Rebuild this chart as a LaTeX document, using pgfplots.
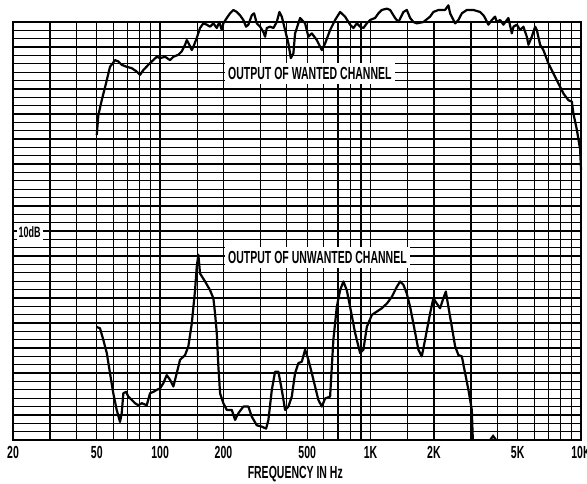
\documentclass[border=0pt]{standalone}
\usepackage{fontspec}
\usepackage{pgfplots}
\pgfplotsset{compat=1.18}
\newfontfamily\cond{Liberation Sans}[FakeStretch=0.6]
\newcommand\cf{\cond\bfseries\fontsize{17.5}{19}\selectfont}
\newcommand\cfs{\cond\bfseries\fontsize{15}{17}\selectfont}
\begin{document}
\begin{tikzpicture}[x=1pt,y=1pt]
\useasboundingbox (0,0) rectangle (587,483);
\begin{axis}[
  at={(13pt,43pt)}, anchor=south west,
  width=568pt, height=418pt, scale only axis,
  xmode=log, xmin=20, xmax=10000, ymin=0, ymax=62.5,
  clip=false,
  xtick={20,50,100,200,500,1000,2000,5000,10000},
  xticklabels={20,50,100,200,500,1K,2K,5K,10K},
  minor xtick={30,40,60,70,80,90,150,300,400,600,700,800,900,1500,3000,4000,6000,7000,8000,9000},
  ytick distance=1.25,
  yticklabels={},
  major tick length=0pt, minor tick length=0pt,
  grid=both,
  major grid style={black, line width=1.25pt},
  minor grid style={black, line width=1.25pt},
  axis line style={black, line width=1.8pt},
  xticklabel style={font=\cf, anchor=base, yshift=-18pt},
  xlabel={FREQUENCY IN Hz},
  xlabel style={font=\cf, at={(axis description cs:0.497,0)}, anchor=base, yshift=-38pt},
]
% wanted channel
\addplot[black, line width=2.2pt, line join=round] coordinates {
(50.0,45.6)(50.9,48.6)(52.8,50.8)(55.3,53.3)(57.8,55.8)(61.1,56.8)(63.3,56.6)(65.7,56.1)(69.4,55.8)(73.3,55.6)(77.4,55.1)(80.3,54.6)(83.2,55.3)(87.9,56.1)(91.3,56.6)(96.4,57.3)(99.9,57.1)(105.6,57.3)(111.5,56.8)(115.6,57.3)(122.1,57.6)(126.7,58.1)(131.4,59.1)(133.9,59.8)(137.7,59.1)(141.4,58.3)(143.9,58.8)(149.3,60.1)(154.8,61.6)(160.5,62.3)(166.6,62.1)(172.7,61.8)(179.1,62.3)(185.9,61.6)(191.2,62.5)(196.3,61.3)(199.8,62.3)(207.4,63.1)(215.0,63.8)(222.9,64.3)(231.4,64.0)(239.8,63.5)(248.7,62.8)(256.1,61.8)(262.7,62.1)(272.6,63.5)(279.6,63.8)(288.0,62.3)(298.6,61.8)(309.6,61.0)(315.4,60.3)(321.3,61.6)(333.1,61.8)(345.4,61.6)(358.4,62.5)(368.9,64.0)(378.7,63.3)(392.6,61.3)(407.0,59.3)(417.9,57.1)(429.9,57.8)(437.9,60.8)(462.6,63.1)(488.6,62.3)(506.6,60.3)(525.8,60.8)(555.3,59.8)(586.6,58.3)(608.3,59.3)(642.4,61.3)(678.5,62.8)(716.8,64.0)(757.1,63.3)(799.7,62.1)(829.1,61.6)(860.5,62.3)(892.1,61.8)(924.8,61.6)(959.8,62.3)(995,62.8)(1051,63.1)(1090,63.8)(1131,64.3)(1195,64.5)(1239,64.3)(1308,63.1)(1356,62.5)(1433,64.0)(1487,64.3)(1542,63.1)(1598,62.5)(1659,62.3)(1783,62.5)(1918,63.3)(1989,64.0)(2102,64.3)(2260,64.3)(2344,65.0)(2388,63.8)(2523,62.3)(2616,62.8)(2715,63.8)(2868,64.3)(3082,64.3)(3317,64.0)(3439,63.5)(3502,63.1)(3631,62.1)(3770,62.8)(3908,63.3)(3982,62.5)(4128,62.8)(4279,62.1)(4520,63.1)(4692,60.8)(4776,61.8)(4956,62.1)(5138,61.3)(5327,61.8)(5528,60.3)(5626,59.1)(5840,60.3)(6054,61.8)(6168,61.3)(6394,59.1)(6629,58.3)(7003,56.3)(7396,54.8)(7812,53.3)(8252,51.8)(8716,50.8)(9046,50.6)(9206,48.8)(9556,46.4)(9908,43.4)(10000,40.4)
};
% unwanted channel
\addplot[black, line width=2.2pt, line join=round] coordinates {
(50.0,16.9)(51.8,16.7)(53.7,15.0)(55.8,13.0)(57.8,10.0)(59.9,7.0)(62.2,4.5)(64.5,2.7)(65.7,4.0)(66.9,7.0)(68.9,7.2)(70.6,6.5)(73.3,6.0)(76.0,5.5)(78.8,5.2)(81.8,5.5)(86.4,5.2)(89.6,7.0)(92.9,7.2)(96.4,7.5)(99.9,7.7)(103.6,8.5)(107.5,9.7)(111.5,9.0)(115.6,8.0)(120.0,10.0)(124.4,12.0)(131.4,12.7)(136.2,14.0)(141.4,17.4)(146.6,22.4)(149.3,25.9)(152.0,27.7)(154.8,24.9)(163.6,23.7)(172.7,22.4)(179.1,21.2)(182.5,18.9)(185.9,16.0)(189.2,11.0)(192.7,7.0)(199.8,5.5)(207.4,4.5)(219.1,4.5)(227.1,3.0)(235.4,4.0)(248.7,5.0)(262.7,5.0)(272.6,3.5)(288.0,2.2)(304.2,2.0)(318.9,1.7)(327.1,3.0)(339.5,7.5)(351.8,10.2)(364.8,10.2)(378.7,7.5)(392.6,4.5)(407.0,5.0)(422.4,6.5)(437.9,10.0)(454.0,11.5)(471.3,11.7)(488.6,13.5)(506.6,12.0)(525.8,10.0)(545.0,8.0)(565.0,6.0)(586.6,5.0)(608.3,6.2)(642.4,6.5)(665.9,15.0)(691.2,19.9)(716.8,22.4)(743.0,23.7)(771.0,22.4)(799.7,19.9)(844.6,16.0)(892.1,13.0)(924.8,13.5)(959.8,16.9)(1014,18.7)(1071,19.2)(1131,19.7)(1195,20.4)(1262,21.4)(1333,22.9)(1382,23.7)(1433,23.2)(1487,21.9)(1542,19.9)(1598,17.4)(1688,13.5)(1752,12.5)(1816,15.0)(1918,18.9)(1989,21.2)(2064,20.4)(2140,19.7)(2219,21.2)(2279,22.2)(2344,19.9)(2434,16.9)(2523,14.0)(2616,12.7)(2715,12.5)(2814,10.0)(2918,7.5)(3028,4.5)(3062,0)
};
\addplot[black, line width=2.2pt] coordinates {(3698,0)(3822,0.6)(3949,0)};
% 10 dB reference marks
\addplot[black, line width=2.6pt] coordinates {(30,35.9)(30,37.4)};
\addplot[black, line width=2.6pt] coordinates {(30,25.7)(30,27.2)};
\node[fill=white, font=\cfs, inner xsep=2pt, inner ysep=3pt] at (axis cs:24,31.1) {10dB};
\node[fill=white, font=\cf, anchor=west, inner xsep=3pt, inner ysep=4.5pt, text depth=0pt] at (axis cs:203.5,54.8) {OUTPUT OF WANTED CHANNEL};
\node[fill=white, font=\cf, anchor=west, inner xsep=3pt, inner ysep=4.5pt, text depth=0pt] at (axis cs:203.5,27.3) {OUTPUT OF UNWANTED CHANNEL};
\end{axis}
\end{tikzpicture}
\end{document}
